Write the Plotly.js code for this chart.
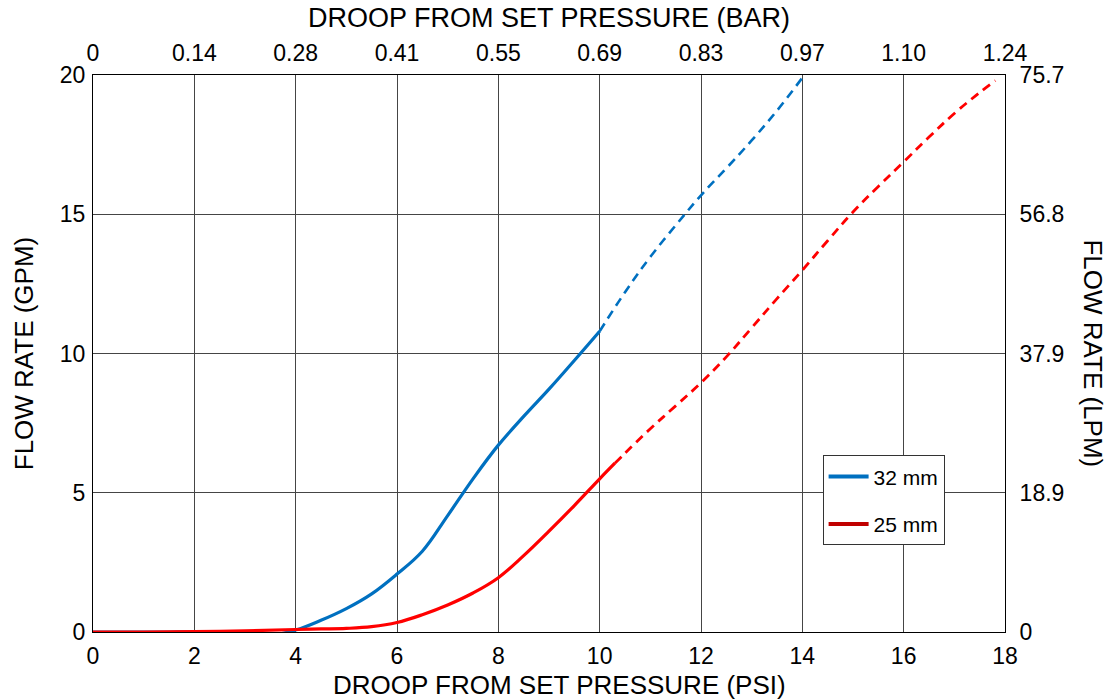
<!DOCTYPE html>
<html>
<head>
<meta charset="utf-8">
<script src="https://cdn.plot.ly/plotly-3.0.1.min.js"></script>
<style>
  html, body { margin: 0; padding: 0; background: #fff; }
  #chart { width: 1111px; height: 700px; }
</style>
</head>
<body>
<div id="chart"></div>
<script>
// ---- Data ----
const psiTicks = [0, 2, 4, 6, 8, 10, 12, 14, 16, 18];
const barTickLabels = ['0', '0.14', '0.28', '0.41', '0.55', '0.69', '0.83', '0.97', '1.10', '1.24'];
const gpmTicks = [0, 5, 10, 15, 20];
const lpmTickLabels = ['0', '18.9', '37.9', '56.8', '75.7'];

// 32 mm — measured (solid)
const psi32Solid = [0, 0.5, 1, 1.5, 2, 2.5, 3, 3.5, 4, 4.5, 5, 5.5, 6, 6.5, 7, 7.5, 8, 8.5, 9, 9.5, 10];
const gpm32Solid = [0, 0, 0, 0, 0, -0.05, -0.11, -0.12, 0.07, 0.42, 0.84, 1.37, 2.08, 2.9, 4.18, 5.5, 6.71, 7.74, 8.72, 9.75, 10.8];
// 32 mm — extrapolated (dashed)
const psi32Dash = [10, 10.5, 11, 11.5, 12, 12.5, 13, 13.5, 14];
const gpm32Dash = [10.8, 12.2, 13.47, 14.6, 15.68, 16.65, 17.65, 18.72, 19.9];

// 25 mm — measured (solid)
const psi25Solid = [0, 1, 2, 3, 4, 4.5, 5, 5.5, 6, 6.5, 7, 7.5, 8, 8.5, 9, 9.5, 10, 10.3];
const gpm25Solid = [0, 0, 0.01, 0.04, 0.09, 0.11, 0.13, 0.19, 0.34, 0.62, 0.97, 1.4, 1.95, 2.74, 3.62, 4.54, 5.5, 6.06];
// 25 mm — extrapolated (dashed)
const psi25Dash = [10.3, 10.5, 11, 11.5, 12, 12.5, 13, 13.5, 14, 14.5, 15, 15.5, 16, 16.5, 17, 17.5, 17.81];
const gpm25Dash = [6.06, 6.42, 7.3, 8.12, 8.95, 9.88, 10.92, 11.97, 12.99, 14.05, 15.08, 16.0, 16.88, 17.77, 18.62, 19.37, 19.8];

const seriesNames = ['32 mm', '25 mm'];

// ---- Styling ----
const BLUE = '#0070C0';
const RED = '#FF0000';
const LEGEND_RED = '#C00000';
const FONT = '"Liberation Sans", Arial, Helvetica, sans-serif';
const GRID = '#454545';

const traces = [
  { x: psi32Solid, y: gpm32Solid, mode: 'lines', line: { color: BLUE, width: 3.2, shape: 'spline', smoothing: 1.1 }, showlegend: false, hoverinfo: 'skip' },
  { x: psi32Dash, y: gpm32Dash, mode: 'lines', line: { color: BLUE, width: 2.6, dash: '9px,6px', shape: 'spline', smoothing: 1.1 }, showlegend: false, hoverinfo: 'skip' },
  { x: psi25Solid, y: gpm25Solid, mode: 'lines', line: { color: RED, width: 3.2, shape: 'spline', smoothing: 1.1 }, showlegend: false, hoverinfo: 'skip' },
  { x: psi25Dash, y: gpm25Dash, mode: 'lines', line: { color: RED, width: 2.8, dash: '9px,6px', shape: 'spline', smoothing: 1.1 }, showlegend: false, hoverinfo: 'skip' },
  // legend entries
  { x: [null], y: [null], mode: 'lines', name: seriesNames[0], line: { color: BLUE, width: 4 }, legendgroup: 'a', hoverinfo: 'skip' },
  { x: [null], y: [null], mode: 'lines', name: seriesNames[1], line: { color: LEGEND_RED, width: 4 }, legendgroup: 'b', hoverinfo: 'skip' },
  // secondary axes carrier
  { x: [null], y: [null], xaxis: 'x2', yaxis: 'y2', mode: 'lines', showlegend: false, hoverinfo: 'skip' }
];

const axisCommon = {
  showline: true, linecolor: '#000', linewidth: 1,
  zeroline: false, ticks: '', tickfont: { family: FONT, size: 23, color: '#000' }
};

const layout = {
  width: 1111, height: 700,
  margin: { l: 93, r: 106, t: 75, b: 68 },
  paper_bgcolor: '#fff', plot_bgcolor: '#fff',
  font: { family: FONT, color: '#000' },
  showlegend: true,
  legend: {
    x: 0.8, y: 0.317, xanchor: 'left', yanchor: 'top',
    bgcolor: '#fff', bordercolor: '#333', borderwidth: 1,
    font: { family: FONT, size: 21, color: '#000' },
    traceorder: 'grouped', tracegroupgap: 17,
    itemwidth: 40
  },
  xaxis: Object.assign({}, axisCommon, {
    range: [0, 18], tickmode: 'array', tickvals: psiTicks, ticktext: psiTicks.map(String),
    showgrid: true, gridcolor: GRID, gridwidth: 1,
    ticklabelstandoff: 3
  }),
  xaxis2: Object.assign({}, axisCommon, {
    overlaying: 'x', side: 'top', anchor: 'y',
    range: [0, 18], tickmode: 'array', tickvals: psiTicks, ticktext: barTickLabels,
    showgrid: false, ticklabelstandoff: 4,
    title: { text: 'DROOP FROM SET PRESSURE (BAR)', font: { family: FONT, size: 27, color: '#000' }, standoff: 4 }
  }),
  yaxis: Object.assign({}, axisCommon, {
    range: [0, 20], tickmode: 'array', tickvals: gpmTicks, ticktext: gpmTicks.map(String),
    showgrid: true, gridcolor: GRID, gridwidth: 1,
    ticklabelstandoff: 2,
    title: { text: 'FLOW RATE (GPM)', font: { family: FONT, size: 26, color: '#000' }, standoff: 18 }
  }),
  yaxis2: Object.assign({}, axisCommon, {
    overlaying: 'y', side: 'right', anchor: 'x',
    range: [0, 20], tickmode: 'array', tickvals: gpmTicks, ticktext: lpmTickLabels,
    showgrid: false, ticklabelstandoff: 9
  }),
  annotations: [
    {
      text: 'DROOP FROM SET PRESSURE (PSI)',
      xref: 'paper', yref: 'paper', x: 0.512, y: -0.0955, xanchor: 'center', yanchor: 'middle',
      showarrow: false, font: { family: FONT, size: 26, color: '#000' }
    },
    {
      text: 'FLOW RATE (LPM)', textangle: 90,
      xref: 'paper', yref: 'paper', x: 1.0965, y: 0.5, xanchor: 'center', yanchor: 'middle',
      showarrow: false, font: { family: FONT, size: 26, color: '#000' }
    }
  ]
};

Plotly.newPlot('chart', traces, layout, { staticPlot: true, displayModeBar: false });
</script>
</body>
</html>
